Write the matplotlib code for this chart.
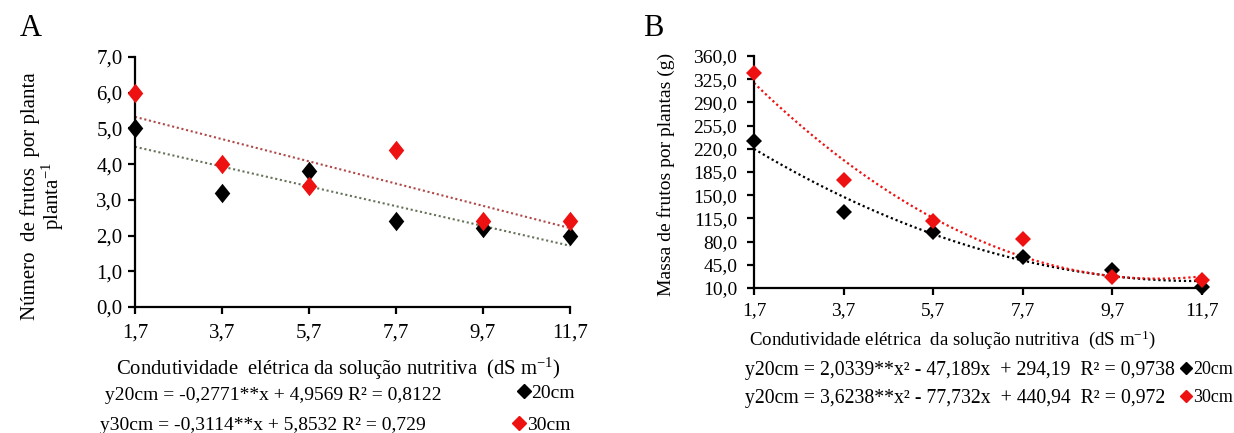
import matplotlib
matplotlib.use("Agg")
import matplotlib.pyplot as plt
import numpy as np
from matplotlib.lines import Line2D
from matplotlib.path import Path

plt.rcParams['font.family'] = ['Liberation Serif', 'DejaVu Serif']
plt.rcParams['mathtext.default'] = 'regular'

# Data
ec = [1.7, 3.7, 5.7, 7.7, 9.7, 11.7]
ec_labels = ["1,7", "3,7", "5,7", "7,7", "9,7", "11,7"]

nfrutos_20 = [5.0, 3.2, 3.8, 2.4, 2.2, 2.0]
nfrutos_30 = [6.0, 4.0, 3.4, 4.4, 2.4, 2.4]
coef_a20 = [-0.2771, 4.9569]
coef_a30 = [-0.3114, 5.8532]

massa_20 = [232.0, 125.0, 95.0, 57.0, 37.0, 12.0]
massa_30 = [335.0, 173.0, 111.0, 84.0, 26.0, 22.0]
coef_b20 = [2.0339, -47.189, 294.19]
coef_b30 = [3.6238, -77.732, 440.94]

yticks_a = [0, 1, 2, 3, 4, 5, 6, 7]
yticks_b = [10, 45, 80, 115, 150, 185, 220, 255, 290, 325, 360]

eq_a = ["y20cm = -0,2771**x + 4,9569 R² = 0,8122",
        "y30cm = -0,3114**x + 5,8532 R² = 0,729"]
eq_b = ["y20cm = 2,0339**x² - 47,189x  + 294,19  R² = 0,9738",
        "y20cm = 3,6238**x² - 77,732x  + 440,94  R² = 0,972"]
xlabel_a = "Condutividade  elétrica da solução nutritiva  (dS m$^{-1}$)"
xlabel_b = "Condutividade elétrica  da solução nutritiva  (dS m$^{-1}$)"
ylabel_a1 = "Número  de frutos  por planta"
ylabel_a2 = "planta$^{-1}$"
ylabel_b = "Massa de frutos por plantas (g)"
series = ["20cm", "30cm"]

RED = '#ee1111'
BLK = '#000000'

# slightly tall diamond marker
tall_diamond = Path([(0, 1), (0.8, 0), (0, -1), (-0.8, 0), (0, 1)],
                    [Path.MOVETO, Path.LINETO, Path.LINETO, Path.LINETO,
                     Path.CLOSEPOLY])

W, H = 1234, 433
fig = plt.figure(figsize=(W / 100, H / 100), dpi=100)

def fx(px):
    return px / W

def fy(py):
    return 1 - py / H

def fmt(v):
    return f"{v:.1f}".replace('.', ',')

def style(ax, fs):
    for s in ['top', 'right']:
        ax.spines[s].set_visible(False)
    for s in ['left', 'bottom']:
        ax.spines[s].set_linewidth(1.6)
    ax.tick_params(axis='both', direction='out', length=5, width=1.6,
                   labelsize=fs, pad=4)

xs = np.linspace(1.7, 11.7, 200)
dot = (0, (1, 1.3))

# Panel A
axA = fig.add_axes([fx(135), fy(307), 435 / W, 250 / H])
axA.plot(xs, np.polyval(coef_a20, xs), ls=dot, color='#66735a', lw=1.5)
axA.plot(xs, np.polyval(coef_a30, xs), ls=dot, color='#b04848', lw=1.5)
axA.plot(ec, nfrutos_20, marker=tall_diamond, ls='none', color=BLK, ms=14,
         mew=0, clip_on=False, zorder=3)
axA.plot(ec, nfrutos_30, marker=tall_diamond, ls='none', color=RED, ms=14,
         mew=0, clip_on=False, zorder=4)
axA.set_xlim(1.7, 11.7)
axA.set_ylim(0, 7)
axA.set_xticks(ec)
axA.set_xticklabels(ec_labels)
axA.set_yticks(yticks_a)
axA.set_yticklabels([fmt(v) for v in yticks_a])
style(axA, 15)
axA.tick_params(axis='x', pad=7)
fig.text(fx(338), fy(369), xlabel_a, fontsize=14.9, ha='center', va='center')
fig.text(fx(30), fy(196), ylabel_a1, fontsize=15, rotation=90,
         ha='center', va='center')
fig.text(fx(53), fy(196), ylabel_a2, fontsize=15, rotation=90,
         ha='center', va='center')
fig.text(fx(20), fy(29), "A", fontsize=22, va='center', ha='left')
fig.text(fx(105), fy(395), eq_a[0], fontsize=14, va='center', ha='left')
fig.text(fx(100), fy(425), eq_a[1], fontsize=14, va='center', ha='left')
for i, (col, py) in enumerate([(BLK, 393), (RED, 425)]):
    h = Line2D([], [], marker='D', ls='none', color=col, ms=7)
    fig.legend([h], [series[i]], loc='center left',
               bbox_to_anchor=(fx(518 - 5 * i), fy(py)), frameon=False,
               fontsize=14, handlelength=0.6, handletextpad=0.1,
               borderpad=0, borderaxespad=0)

# Panel B
axB = fig.add_axes([fx(754), fy(288), 448 / W, 232 / H])
axB.plot(xs, np.polyval(coef_b20, xs), ls=dot, color=BLK, lw=1.6)
axB.plot(xs, np.polyval(coef_b30, xs), ls=dot, color=RED, lw=1.6)
axB.plot(ec, massa_20, 'D', color=BLK, ms=8.5, mew=0, clip_on=False, zorder=3)
axB.plot(ec, massa_30, 'D', color=RED, ms=8.5, mew=0, clip_on=False, zorder=4)
axB.set_xlim(1.7, 11.7)
axB.set_ylim(10, 360)
axB.set_xticks(ec)
axB.set_xticklabels(ec_labels)
axB.set_yticks(yticks_b)
axB.set_yticklabels([fmt(v) for v in yticks_b])
style(axB, 14)
axB.tick_params(axis='x', pad=5)
axB.tick_params(axis='y', pad=7)
fig.text(fx(952), fy(340), xlabel_b, fontsize=13.6, ha='center', va='center')
fig.text(fx(666), fy(174), ylabel_b, fontsize=14, rotation=90,
         ha='center', va='center')
fig.text(fx(643), fy(29), "B", fontsize=22, va='center', ha='left')
fig.text(fx(745), fy(371), eq_b[0], fontsize=14.2, va='center', ha='left')
fig.text(fx(745), fy(399), eq_b[1], fontsize=14.2, va='center', ha='left')
for i, (col, py) in enumerate([(BLK, 370), (RED, 398)]):
    h = Line2D([], [], marker='D', ls='none', color=col, ms=6.5)
    fig.legend([h], [series[i]], loc='center right',
               bbox_to_anchor=(fx(1233), fy(py)), frameon=False,
               fontsize=13, handlelength=0.55, handletextpad=0.1,
               borderpad=0, borderaxespad=0)

fig.savefig("out.png", dpi=100)
